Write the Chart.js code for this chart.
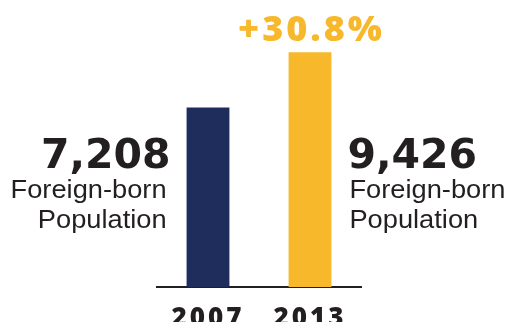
<!DOCTYPE html>
<html>
<head>
<meta charset="utf-8">
<script src="https://cdn.jsdelivr.net/npm/chart.js@4/dist/chart.umd.min.js"></script>
<style>
html,body{margin:0;padding:0;background:#fff;}
#wrap{width:508px;height:322px;position:relative;}
</style>
</head>
<body>
<div id="wrap"><canvas id="c" width="508" height="322"></canvas></div>
<script>
const years = ['2007', '2013'];
const population = [7208, 9426];
const valueLabels = ['7,208', '9,426'];
const subLabels = ['Foreign-born', 'Population'];
const changeLabel = '+30.8%';
const barColors = ['#1f2d5c', '#f7b82b'];

const INK = '#231f20';

const annot = {
  id: 'annot',
  beforeDraw(chart) {
    chart.ctx.letterSpacing = '3px';
  },
  afterDatasetsDraw(chart) {
    const ctx = chart.ctx;
    const meta = chart.getDatasetMeta(0);
    const bottom = chart.chartArea.bottom;
    ctx.save();
    ctx.fillStyle = INK;
    ctx.textBaseline = 'alphabetic';
    meta.data.forEach((bar, i) => {
      const half = bar.width / 2;
      const left = i === 0;
      const ax = left ? bar.x - half - 18 : bar.x + half + 17;
      ctx.letterSpacing = '0px';
      ctx.font = 'bold 41px "DejaVu Sans"';
      ctx.textAlign = left ? 'right' : 'left';
      ctx.fillText(valueLabels[i], left ? ax + 2 : ax - 1, bottom - 119);
      ctx.font = '25px "Liberation Sans"';
      subLabels.forEach((t, k) => {
        ctx.save();
        const ax2 = left ? ax - 2 : ax + 1;
        ctx.translate(ax2, bottom - 89 + k * 30);
        ctx.scale(1.09, 1);
        ctx.fillText(t, 0, 0);
        ctx.restore();
      });
    });
    const b = meta.data[1];
    ctx.fillStyle = barColors[1];
    ctx.font = '800 36px "Open Sans"';
    ctx.letterSpacing = '3px';
    ctx.textAlign = 'center';
    ctx.fillText(changeLabel, b.x + 1.5, b.y - 11);
    ctx.restore();
  }
};

new Chart(document.getElementById('c'), {
  type: 'bar',
  data: {
    labels: years,
    datasets: [{
      data: population,
      backgroundColor: barColors,
      borderWidth: 0,
      categoryPercentage: 1,
      barPercentage: 0.42
    }]
  },
  options: {
    responsive: false,
    animation: false,
    events: [],
    layout: { padding: { left: 157, right: 147, top: 13, bottom: 0 } },
    plugins: { legend: { display: false }, tooltip: { enabled: false } },
    scales: {
      x: {
        grid: { display: false },
        border: { display: true, color: INK, width: 2 },
        ticks: {
          color: INK,
          padding: 8,
          font: { family: 'Open Sans', weight: '800', size: 26 }
        },
        afterFit(s) { s.height = 35; }
      },
      y: {
        display: false,
        min: 0,
        max: 11000
      }
    }
  },
  plugins: [annot]
});
</script>
</body>
</html>
